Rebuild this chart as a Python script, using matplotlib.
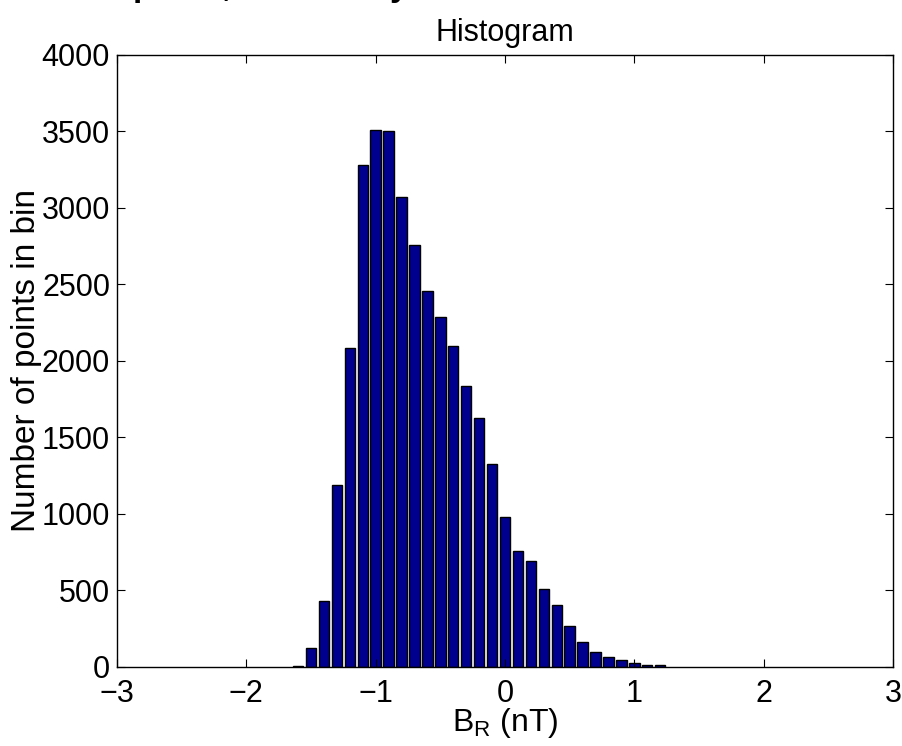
import matplotlib
matplotlib.use("Agg")
import matplotlib.pyplot as plt
import numpy as np

plt.rcParams['font.family'] = ['Liberation Sans', 'DejaVu Sans']
plt.rcParams['mathtext.fontset'] = 'custom'
plt.rcParams['mathtext.rm'] = 'Liberation Sans'
plt.rcParams['mathtext.it'] = 'Liberation Sans'

# Data
bin_centers = [-1.6, -1.5, -1.4, -1.3, -1.2, -1.1, -1.0, -0.9, -0.8, -0.7,
               -0.6, -0.5, -0.4, -0.3, -0.2, -0.1, 0.0, 0.1, 0.2, 0.3,
               0.4, 0.5, 0.6, 0.7, 0.8, 0.9, 1.0, 1.1, 1.2]
counts = [1, 124, 428, 1188, 2085, 3278, 3507, 3500, 3070, 2760,
          2458, 2285, 2098, 1836, 1627, 1326, 976, 755, 688, 508,
          404, 268, 157, 98, 64, 41, 20, 13, 9]
x_ticks = [-3, -2, -1, 0, 1, 2, 3]
y_ticks = [0, 500, 1000, 1500, 2000, 2500, 3000, 3500, 4000]

fig = plt.figure(figsize=(9.03, 7.46), dpi=100)
ax = fig.add_axes([117/903, 1-666.5/746, (893-117)/903, (666.5-55)/746])

ax.bar(bin_centers, counts, width=0.08, color='#00008F', edgecolor='black',
       linewidth=1.0, align='center')

ax.set_xlim(-3, 3)
ax.set_ylim(0, 4000)
ax.set_xticks(x_ticks)
ax.set_yticks(y_ticks)
ax.tick_params(direction='in', length=6, width=0.8, labelsize=22,
               top=True, right=True)
ax.tick_params(axis='x', pad=9)
ax.tick_params(axis='y', pad=5)
for s in ax.spines.values():
    s.set_linewidth(1.0)

ax.set_title('Histogram', fontsize=22, pad=10)
ax.set_xlabel(r'B$_{\mathrm{R}}$ (nT)', fontsize=23, labelpad=-2)
ax.set_ylabel('Number of points in bin', fontsize=24, labelpad=0)

# Partially visible bold super-title fragments cut off at the top edge
for txt, xp in [('p', 133), (',', 222), ('y', 390)]:
    fig.text(xp/903, 1 + 4/746, txt, fontsize=24, fontweight='bold',
             va='baseline', ha='left')

fig.savefig('out.png', dpi=100)
